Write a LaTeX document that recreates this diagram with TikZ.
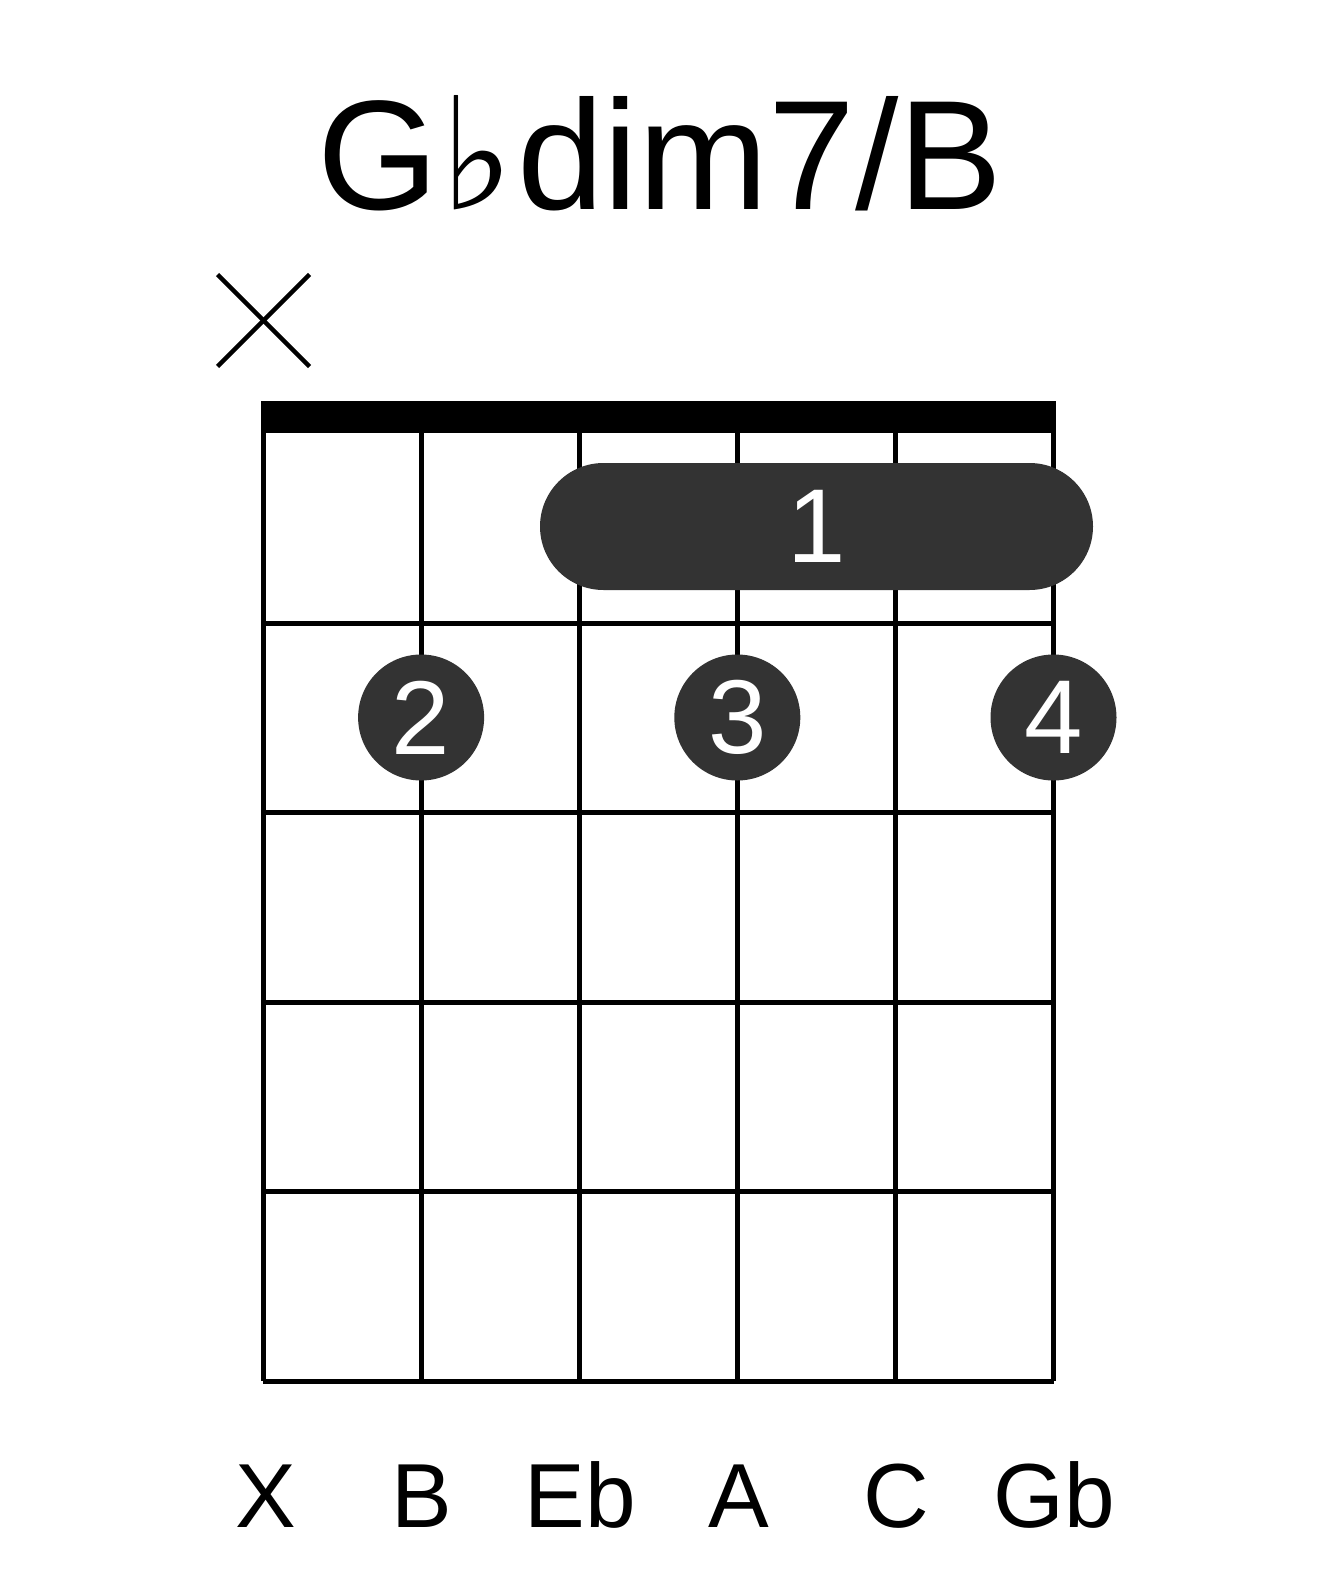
\documentclass[tikz,border=0pt]{standalone}
\usepackage{fontspec}
\setmainfont{Liberation Sans}
\newfontfamily\flatfont{DejaVu Sans}
\definecolor{dotgray}{HTML}{333333}
\begin{document}
\begin{tikzpicture}[x=1pt,y=-1pt,
  gridline/.style={line width=5pt, black},
  mutex/.style={line width=4.5pt, black},
  finger/.style={circle, fill=dotgray, minimum size=126pt, inner sep=0pt, text=white, font=\fontsize{105}{105}\selectfont},
  barrebox/.style={rectangle, fill=dotgray, rounded corners=63.5pt, minimum width=553pt, minimum height=127pt, inner sep=0pt, text=white, font=\fontsize{105}{105}\selectfont},
  notelabel/.style={anchor=base, inner sep=0pt, font=\fontsize{91}{91}\selectfont},
  titletext/.style={anchor=base west, inner sep=0pt, font=\fontsize{156}{156}\selectfont}]
\useasboundingbox[fill=white] (0,0) rectangle (1317,1581);
% title
\node[titletext] (title) at (317,209) {G\kern2pt{\flatfont ♭}\kern3ptdim7/B};
% nut
\fill[black] (260.5,400.7) rectangle (1056,433);
% string coordinates
\foreach \i/\x in {1/263,2/421.1,3/579.2,4/737.3,5/895.4,6/1053.5}{
  \coordinate (s\i top) at (\x,433);
  \coordinate (s\i bot) at (\x,1381);
}
\foreach \i in {1,...,6}{ \draw[gridline] (s\i top) -- (s\i bot); }
% frets
\foreach \j/\y in {1/623,2/812.5,3/1002,4/1191.5,5/1381}{
  \coordinate (f\j l) at (263,\y);
  \coordinate (f\j r) at (1053.5,\y);
}
\foreach \j in {1,...,4}{ \draw[gridline] (f\j l) -- (f\j r); }
\draw[gridline, line cap=square] (f5l) -- (f5r);
% muted string
\coordinate (xa) at (217.5,274.5);
\coordinate (xb) at (309.5,366.5);
\coordinate (xc) at (217.5,366.5);
\coordinate (xd) at (309.5,274.5);
\draw[mutex] (xa) -- (xb);
\draw[mutex] (xc) -- (xd);
% barre and fingers
\node[barrebox] (barre) at (816.5,526.5) {1};
\node[finger] (d2) at (421.1,717.5) {2};
\node[finger] (d3) at (737.3,717.5) {3};
\node[finger] (d4) at (1053.5,717.5) {4};
% note names
\node[notelabel] (n1) at (266,1527) {X};
\node[notelabel] (n2) at (422,1527) {B};
\node[notelabel] (n3) at (580,1527) {Eb};
\node[notelabel] (n4) at (739,1527) {A};
\node[notelabel] (n5) at (896,1527) {C};
\node[notelabel] (n6) at (1054,1527) {Gb};
\end{tikzpicture}
\end{document}
